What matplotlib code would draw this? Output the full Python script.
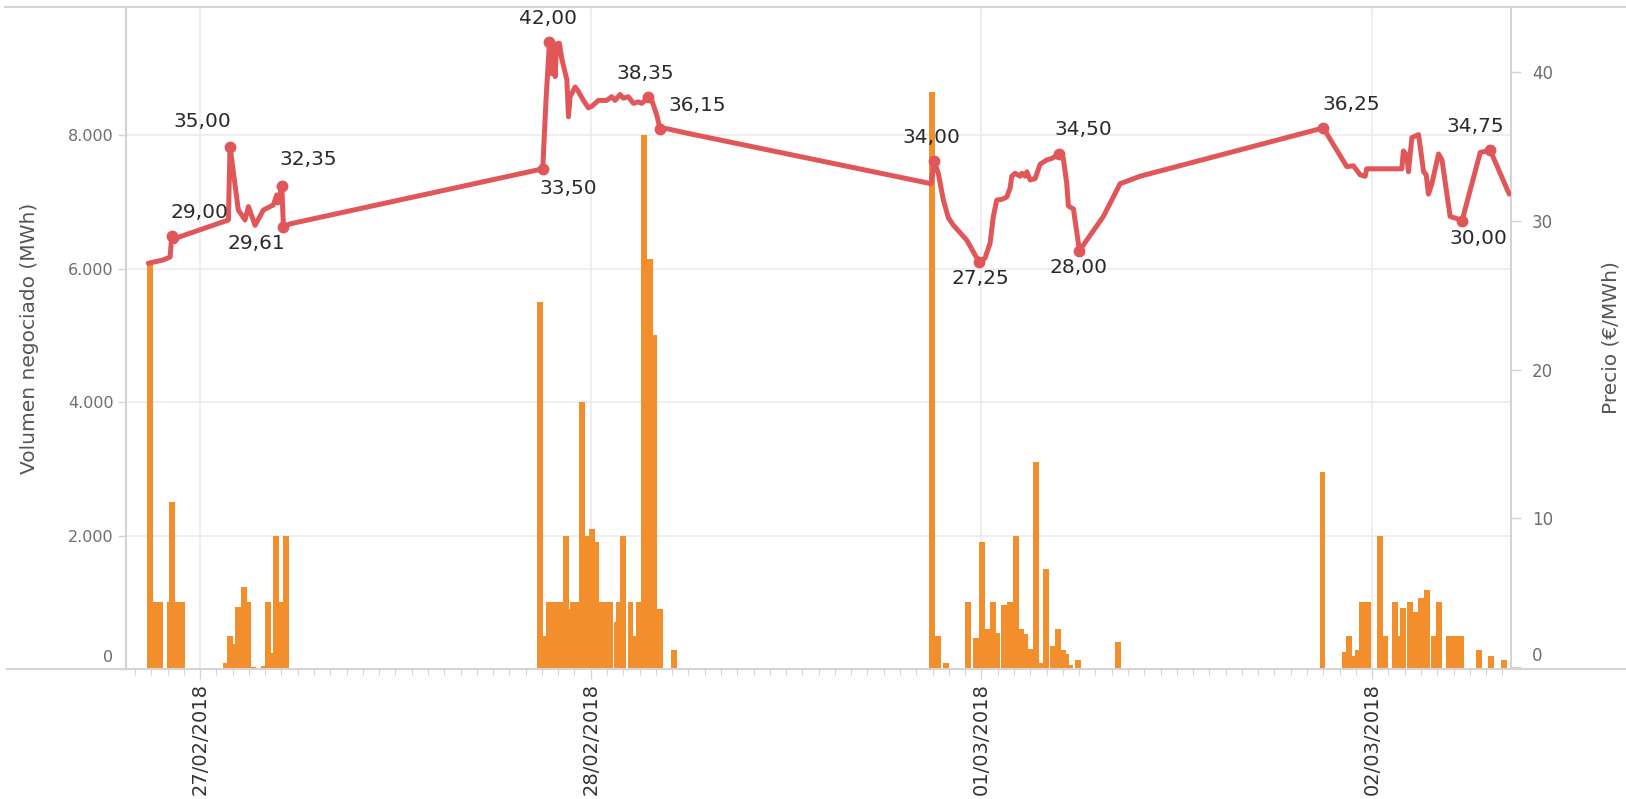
import matplotlib
matplotlib.use('Agg')
import matplotlib.pyplot as plt
import matplotlib.transforms as mtransforms
from matplotlib.lines import Line2D

# horas contadas desde el 27/02/2018 00:00
bar_hours = [-3.09, -2.75, -2.46, -1.83, -1.72, -1.38, -1.08,
             1.60, 1.84, 2.15, 2.33, 2.70, 2.95, 3.26, 3.93, 4.18, 4.42, 4.67, 4.98, 5.28,
             20.90, 21.19, 21.44, 21.62, 21.81, 22.11, 22.30, 22.48, 22.73, 22.91, 23.16,
             23.47, 23.77, 24.08, 24.33, 24.57, 24.88, 25.19, 25.62, 25.74, 25.99, 26.45,
             26.72, 26.97, 27.28, 27.64, 27.89, 28.26, 29.12,
             44.97, 45.34, 45.83, 47.18, 47.67, 48.04, 48.35, 48.71, 48.96, 49.39, 49.76,
             50.13, 50.43, 50.68, 51.05, 51.35, 51.66, 51.97, 52.40, 52.71, 53.01, 53.20,
             53.44, 53.94, 56.39,
             68.95, 70.34, 70.58, 70.89, 71.14, 71.38, 71.75, 72.49, 72.80, 73.41, 73.59,
             73.90, 74.33, 74.70, 75.00, 75.37, 75.80, 76.11, 76.73, 77.10, 77.47, 78.57,
             79.31, 80.10]
bar_volume = [6100, 1000, 1000, 1000, 2500, 1000, 1000,
              85, 500, 380, 930, 1230, 1000, 35, 50, 1000, 240, 2000, 1000, 2000,
              5500, 500, 1000, 65, 1000, 1000, 280, 2000, 900, 1000, 1000,
              4000, 2000, 2100, 1900, 1000, 1000, 1000, 700, 1000, 2000, 1000,
              500, 1000, 8000, 6150, 5000, 900, 280,
              8650, 500, 90, 1000, 460, 1900, 600, 1000, 540, 960, 1000,
              2000, 600, 520, 300, 3100, 90, 1500, 350, 600, 290, 230,
              60, 130, 400,
              2950, 250, 500, 200, 280, 1000, 1000, 2000, 500, 1000, 500,
              920, 1000, 860, 1060, 1180, 500, 1000, 500, 500, 500, 280,
              190, 130]

price_hours = [-3.18, -2.27, -1.84, -1.74, -1.54, -1.33, 1.74, 1.84, 2.35, 2.76,
               2.97, 3.38, 3.89, 4.50, 4.71, 4.79, 5.02, 5.12, 5.53,
               21.05, 21.25, 21.46, 21.60, 21.70, 21.81, 21.91, 22.07, 22.22, 22.53,
               22.63, 22.73, 23.04, 23.24, 23.55, 23.85, 24.06, 24.47, 24.98, 25.29,
               25.49, 25.80, 26.00, 26.31, 26.62, 26.92, 27.13, 27.34, 27.50, 27.75,
               28.06, 28.26, 28.67, 29.90,
               44.91, 45.09, 45.35, 45.66, 45.97, 46.28, 47.10, 47.61, 47.87, 48.22,
               48.53, 48.73, 48.94, 49.25, 49.55, 49.76, 49.86, 50.07, 50.37, 50.48,
               50.68, 50.79, 50.99, 51.30, 51.60, 52.01, 52.32, 52.79, 53.03, 53.24,
               53.34, 53.65, 54.02, 55.49, 56.52, 57.74,
               69.00, 70.44, 70.85, 71.26, 71.57, 71.67, 73.82, 73.92, 74.13, 74.23,
               74.44, 74.85, 75.16, 75.32, 75.46, 75.67, 76.08, 76.29, 76.79, 77.21,
               77.52, 78.64, 79.25, 80.42]
price_values = [27.15, 27.37, 27.57, 29.00, 28.6, 28.9, 30.06, 35.00, 30.73, 30.06,
                30.96, 29.7, 30.73, 31.07, 31.74, 31.2, 32.35, 29.61, 29.8,
                33.50, 38.1, 42.00, 39.9, 41.9, 39.7, 41.9, 41.95, 40.9, 39.5,
                37.0, 38.35, 39.0, 38.7, 38.1, 37.6, 37.7, 38.1, 38.1, 38.35,
                38.1, 38.5, 38.25, 38.35, 37.9, 38.0, 37.9, 38.1, 38.35, 38.1,
                37.1, 36.15, 36.2, 35.9,
                32.5, 34.00, 33.2, 31.4, 30.2, 29.7, 28.7, 27.7, 27.25, 27.5,
                28.5, 30.3, 31.4, 31.45, 31.6, 32.2, 33.0, 33.2, 33.0, 33.2,
                33.0, 33.3, 32.75, 32.85, 33.8, 34.1, 34.2, 34.50, 34.2, 32.5,
                31.0, 30.8, 28.00, 30.3, 32.5, 33.0,
                36.25, 33.65, 33.7, 33.1, 33.0, 33.5, 33.5, 34.7, 34.4, 33.3,
                35.6, 35.8, 33.3, 33.1, 31.8, 32.5, 34.5, 34.1, 30.3, 30.15,
                30.00, 34.6, 34.75, 31.8]

# puntos etiquetados (indices en la serie de precios)
labeled = [3, 7, 16, 17, 19, 21, 47, 50, 54, 61, 80, 85, 89, 109, 111]
# desplazamiento de cada etiqueta, en puntos
label_offsets = [(20, 17), (-20, 18), (19, 19), (-19.5, -12), (18.5, -14.5), (-1, 17),
                 (-2, 17), (27, 17), (-2, 17), (1, -12), (17.5, 17.5), (-1, -12.5),
                 (20, 17), (11.5, -12.5), (-11, 17)]

day_ticks = [0, 24, 48, 72]
day_labels = ['27/02/2018', '28/02/2018', '01/03/2018', '02/03/2018']
vol_ticks = [0, 2000, 4000, 6000, 8000]
vol_labels = ['0', '2.000', '4.000', '6.000', '8.000']
price_ticks = [0, 10, 20, 30, 40]

orange = '#F28E2B'
red = '#E15759'
grid_c = '#EBEBEB'
axis_c = '#D4D4D4'
tick_c = '#6E6E6E'

W, H = 1626, 799
fig = plt.figure(figsize=(W / 100, H / 100), dpi=100)
ax = fig.add_axes([126 / W, 1 - 669 / H, (1511 - 126) / W, (669 - 7) / H])
ax2 = ax.twinx()

ax.bar(bar_hours, bar_volume, width=0.35, color=orange, linewidth=0, zorder=2)
ax.set_xlim(-4.55, 80.53)
ax.set_ylim(0, 9918)
ax2.set_ylim(-0.13, 44.38)

ax2.plot(price_hours, price_values, color=red, lw=3.6, solid_joinstyle='round',
         solid_capstyle='round', zorder=3)
ax2.plot([price_hours[i] for i in labeled], [price_values[i] for i in labeled], 'o',
         color=red, ms=7.5, zorder=4)
for i, off in zip(labeled, label_offsets):
    txt = f'{price_values[i]:.2f}'.replace('.', ',')
    ax2.annotate(txt, (price_hours[i], price_values[i]), xytext=off,
                 textcoords='offset points', ha='center', va='center',
                 fontsize=14.5, color='#2a2a2a', zorder=5)

# ejes y cuadricula
ax.set_yticks(vol_ticks)
ax.set_yticklabels(vol_labels)
ax2.set_yticks(price_ticks)
ax.set_xticks(day_ticks)
ax.set_xticklabels(day_labels, rotation=90, va='top')
ax.set_xticks(range(-4, 81), minor=True)
ax.grid(axis='y', color=grid_c, lw=1.2, zorder=0)
ax.grid(axis='x', which='major', color=grid_c, lw=1.2, zorder=0)
ax.set_axisbelow(True)

ax.tick_params(axis='y', length=6, width=1, color=axis_c, labelcolor=tick_c,
               labelsize=11.5, pad=3)
ax2.tick_params(axis='y', length=7, width=1, color=axis_c, labelcolor=tick_c,
                labelsize=12, pad=8)
ax.tick_params(axis='x', which='major', length=7, width=1, color=axis_c,
               labelcolor='#333333', labelsize=14, pad=3)
ax.tick_params(axis='x', which='minor', length=4, width=0.8, color=axis_c)

# los ceros se dibujan por encima de la linea base
shift = mtransforms.ScaledTranslation(0, 0.13, fig.dpi_scale_trans)
for t in (ax.yaxis.get_major_ticks()[0].label1, ax2.yaxis.get_major_ticks()[0].label2):
    t.set_transform(t.get_transform() + shift)

for sp in ['top', 'bottom']:
    ax.spines[sp].set_visible(False)
    ax2.spines[sp].set_visible(False)
ax.spines['right'].set_visible(False)
ax2.spines['left'].set_visible(False)
ax.spines['left'].set_color(axis_c)
ax.spines['left'].set_linewidth(1.5)
ax2.spines['right'].set_color(axis_c)
ax2.spines['right'].set_linewidth(1.5)

ax.set_ylabel('Volumen negociado (MWh)', fontsize=14.5, color='#555555')
ax.yaxis.set_label_coords(-0.0625, 0.5)
ax2.set_ylabel('Precio (€/MWh)', fontsize=14.5, color='#555555')
ax2.yaxis.set_label_coords(1.0657, 0.5)

# lineas de marco estilo Tableau
fig.add_artist(Line2D([5 / W, 1], [1 - 7 / H, 1 - 7 / H], color=axis_c, lw=1.5))
fig.add_artist(Line2D([7 / W, 1], [1 - 669 / H, 1 - 669 / H], color=axis_c, lw=1.5))

fig.savefig('out.png', dpi=100)
